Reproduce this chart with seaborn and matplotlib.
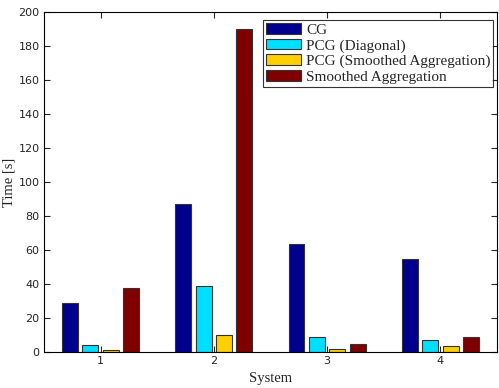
import numpy as np
import pandas as pd
import matplotlib
matplotlib.use("Agg")
import matplotlib.pyplot as plt
import seaborn as sns

# Datos
systems = ["1", "2", "3", "4"]
methods = ["CG", "PCG (Diagonal)", "PCG (Smoothed Aggregation)", "Smoothed Aggregation"]
cg = [29, 87, 63.3, 54.8]
pcg_diag = [4.2, 38.7, 8.7, 6.8]
pcg_sa = [1.3, 9.8, 1.6, 3.6]
sa = [37.7, 190, 4.8, 8.9]
colors = ["#00008F", "#00DFFF", "#FFCF00", "#800000"]

rows = []
for m, vals in zip(methods, [cg, pcg_diag, pcg_sa, sa]):
    for s, v in zip(systems, vals):
        rows.append({"System": s, "Method": m, "Time": v})
df = pd.DataFrame(rows)

sns.set_style("white")
plt.rcParams["font.family"] = ["DejaVu Sans"]
serif = ["Liberation Serif", "DejaVu Serif"]

fig = plt.figure(figsize=(4.99, 3.88), dpi=100)
ax = fig.add_axes([0.088, 0.093, 0.908, 0.876])

sns.barplot(data=df, x="System", y="Time", hue="Method", order=systems,
            hue_order=methods, palette=colors, width=0.72, gap=0.22,
            edgecolor="#333333", linewidth=0.8, saturation=1, ax=ax)

ax.set_xlim(-0.5, 3.5)
ax.set_ylim(0, 200)
ax.set_yticks(np.arange(0, 201, 20))
ax.tick_params(direction="in", length=4, width=0.8, labelsize=8,
               top=True, right=True, bottom=True, left=True, pad=3)
for sp in ax.spines.values():
    sp.set_color("black")
    sp.set_linewidth(0.8)

ax.set_xlabel("System", family=serif, fontsize=10.5, labelpad=4)
ax.set_ylabel("Time [s]", family=serif, fontsize=10.5, labelpad=2)

leg = ax.legend(loc="upper right", bbox_to_anchor=(0.999, 0.985),
                prop={"family": serif, "size": 11},
                frameon=True, fancybox=False, borderaxespad=0.2,
                handlelength=2.3, handleheight=0.7, handletextpad=0.3,
                labelspacing=0.12, borderpad=0.2)
leg.get_frame().set_edgecolor("black")
leg.get_frame().set_linewidth(0.8)

fig.savefig("out.png", dpi=100)
